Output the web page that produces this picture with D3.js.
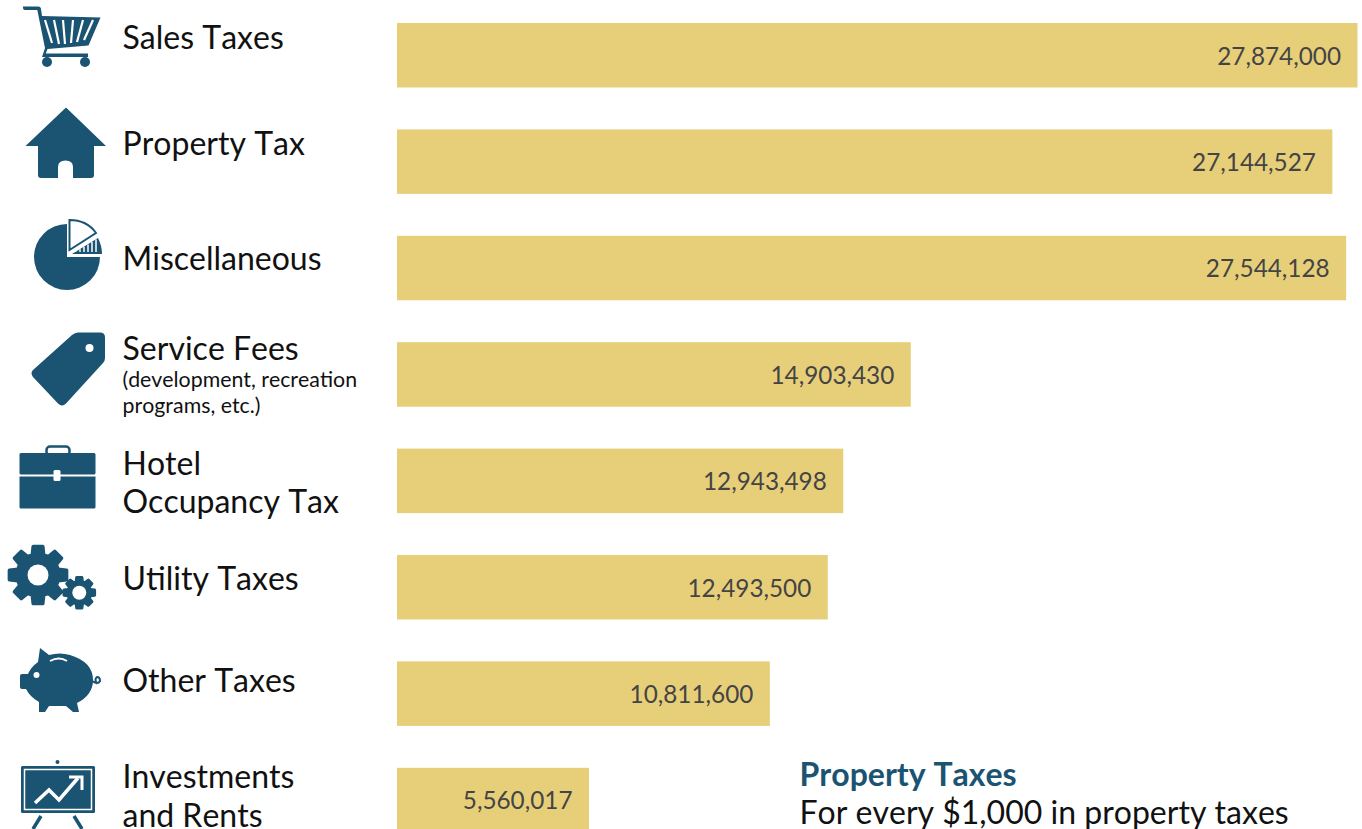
<!DOCTYPE html>
<html><head><meta charset="utf-8">
<script src="https://cdn.jsdelivr.net/npm/d3@7"></script>
<style>
html,body{margin:0;padding:0;background:#fff;overflow:hidden}
svg{display:block}
text{font-family:Lato,"Open Sans",sans-serif;font-kerning:none}
</style></head><body>
<svg id="c" width="1362" height="829"></svg>
<script>
const categories = ["Sales Taxes","Property Tax","Miscellaneous","Service Fees","Hotel Occupancy Tax","Utility Taxes","Other Taxes","Investments and Rents"];
const values = [27874000,27144527,27544128,14903430,12943498,12493500,10811600,5560017];
const labelLines = [["Sales Taxes"],["Property Tax"],["Miscellaneous"],["Service Fees"],["Hotel","Occupancy Tax"],["Utility Taxes"],["Other Taxes"],["Investments","and Rents"]];
const subLabelLines = [[],[],[],["(development, recreation","programs, etc.)"],[],[],[],[]];
const noteTitle = "Property Taxes";
const noteBody = "For every $1,000 in property taxes";

const NAVY="#1a5472", GOLD="#e7cf7a", INK="#111", VALUE_INK="#444";
const labelBaselines=[49,155,270,360,475,590,692,788];
const lineGaps=[0,0,0,0,38,0,0,39];
const svg=d3.select("#c");
const x=d3.scaleLinear().domain([0,values[0]]).range([397.5,1357.5]);
const y=d3.scaleBand().domain(categories).range([23,23+106.4*7+64.5]).paddingInner(1-64.5/106.4).paddingOuter(0);
const fmt=d3.format(",");

svg.append("g").selectAll("rect").data(categories).join("rect")
 .attr("x",397).attr("y",d=>y(d)).attr("width",(d,i)=>x(values[i])-397).attr("height",y.bandwidth()).attr("fill",GOLD);
svg.append("g").selectAll("text").data(categories).join("text")
 .attr("x",(d,i)=>x(values[i])-16.5).attr("y",d=>y(d)+41.5).attr("text-anchor","end")
 .attr("font-size",24.3).attr("fill",VALUE_INK).text((d,i)=>fmt(values[i]));

const lab=svg.append("g");
labelLines.forEach((ls,i)=>{
  ls.forEach((t,j)=>lab.append("text").attr("x",122.5).attr("y",labelBaselines[i]+j*lineGaps[i]).attr("font-size",32).attr("fill",INK).text(t));
  subLabelLines[i].forEach((t,j)=>lab.append("text").attr("x",122.5).attr("y",labelBaselines[i]+27+j*26).attr("font-size",21.3).attr("fill",INK).text(t));
});
svg.append("text").attr("x",799.5).attr("y",786).attr("font-size",32).attr("font-weight",700).attr("fill",NAVY).text(noteTitle);
svg.append("text").attr("x",799.5).attr("y",824).attr("font-size",32).attr("fill",INK).text(noteBody);

// ---- icons (decorative glyphs) ----
const ic=svg.append("g").attr("fill",NAVY);
// cart
ic.append("path").attr("d","M23 6.5h15.5q2 0 2.4 2L42 16l58.5 1.5-12 28-41 3.500-1.700 4.500H88v3.500H42l3-9L37.300 10H25q-2 0-2-2z");
[[47,62],[85,62]].forEach(p=>ic.append("circle").attr("cx",p[0]).attr("cy",p[1]).attr("r",5));
ic.append("g").attr("stroke","#fff").attr("stroke-width",2.2).selectAll("line")
 .data([[45,20,52,43],[54,20,59,44],[63,20,65,44],[73,20,71,43],[83,20,77,42],[93,20,84,40]]).join("line")
 .attr("x1",d=>d[0]).attr("y1",d=>d[1]).attr("x2",d=>d[2]).attr("y2",d=>d[3]);
// house
ic.append("path").attr("d","M66 107.500L106 146H94V175q0 3-3 3H73V167q0-6.500-7.500-6.500T58 167V178H41q-3 0-3-3V146H25.500z");
// pie
ic.append("path").attr("d","M67 224A33 33 0 1 0 100 257H67z");
ic.append("path").attr("fill","#fff").attr("stroke",NAVY).attr("stroke-width",2).attr("d","M69.500 220Q87 220 96 233L69.500 250z");
ic.append("path").attr("d","M72 254L98 238Q102 246 102 254z");
ic.append("g").attr("stroke","#fff").attr("stroke-width",1.5).selectAll("line")
 .data([76,80,84,88,92,96]).join("line").attr("x1",d=>d).attr("x2",d=>d).attr("y1",d=>254-(d-72)*0.6).attr("y2",252);
// tag
ic.append("path").attr("d","M78 332.500H100q5 0 5 5V358q0 3-2 5L66 403.500q-4 4-8 0L33 377q-3-4 0-7L72 335q3-2.500 6-2.500z");
ic.append("circle").attr("cx",89.5).attr("cy",348).attr("r",4).attr("fill","#fff");
// briefcase
ic.append("path").attr("d","M21 453H94q1.500 0 1.500 1.500V473q0 1.500-1.500 1.500H21q-1.500 0-1.500-1.500V454.500Q19.500 453 21 453z");
ic.append("path").attr("d","M19.500 476.500H95.500V507q0 1.500-1.500 1.500H21q-1.500 0-1.500-1.500z");
ic.append("rect").attr("x",46.5).attr("y",446.5).attr("width",23).attr("height",9).attr("rx",3.5).attr("fill","none").attr("stroke",NAVY).attr("stroke-width",2.5);
ic.append("rect").attr("x",53.5).attr("y",470).attr("width",7).attr("height",11).attr("rx",1.5).attr("fill","#fff");
// gears
function gear(cx,cy,R,r,hole,n,sw){
  const a=2*Math.PI/n; let p="";
  for(let i=0;i<n;i++){const t=i*a-Math.PI/2;
    const pts=[[r,-0.28],[R,-0.17],[R,0.17],[r,0.28]].map(q=>[cx+q[0]*Math.cos(t+q[1]*a*1.25),cy+q[0]*Math.sin(t+q[1]*a*1.25)]);
    p+=(i?"L":"M")+pts.map(q=>q[0].toFixed(1)+" "+q[1].toFixed(1)).join("L");}
  p+="Z";
  ic.append("path").attr("stroke",NAVY).attr("stroke-width",sw).attr("stroke-linejoin","round").attr("d",p);
  ic.append("circle").attr("cx",cx).attr("cy",cy).attr("r",hole).attr("fill","#fff");
}
gear(38,575,29,21,10.5,8,3.5);
gear(79.3,592.7,15.5,11.5,7,8,3);
// pig
ic.append("path").attr("d","M40 648L49 655Q60 652 70 655Q93 662 93 680Q93 695 77 703L79 712H73L66 706H49L45 712H39L39 702Q30 697 26 689H22Q20 689 20 687V676Q20 674 22 674H28Q31 667 38 662z");
ic.append("circle").attr("cx",36.5).attr("cy",675).attr("r",3).attr("fill","#fff");
ic.append("path").attr("d","M50 661Q59 656 67 661").attr("fill","none").attr("stroke","#fff").attr("stroke-width",2);
ic.append("path").attr("d","M92 681Q98 685 100 681Q100 677 97 677Q94 679 97 684").attr("fill","none").attr("stroke",NAVY).attr("stroke-width",2);
// presentation board
ic.append("circle").attr("cx",57.5).attr("cy",762).attr("r",2);
ic.append("rect").attr("x",21).attr("y",766).attr("width",74).attr("height",47).attr("rx",1.5);
ic.append("rect").attr("x",24.5).attr("y",769.5).attr("width",67).attr("height",40).attr("fill",NAVY).attr("stroke","#fff").attr("stroke-width",1.5);
ic.append("path").attr("d","M35 803L49 790L59 800L78 778").attr("fill","none").attr("stroke","#fff").attr("stroke-width",3.5);
ic.append("path").attr("d","M69 777H82V790").attr("fill","none").attr("stroke","#fff").attr("stroke-width",3);
ic.append("path").attr("d","M41 816L33 829M74 816L82 829").attr("stroke",NAVY).attr("stroke-width",3.5);
</script>
</body></html>
